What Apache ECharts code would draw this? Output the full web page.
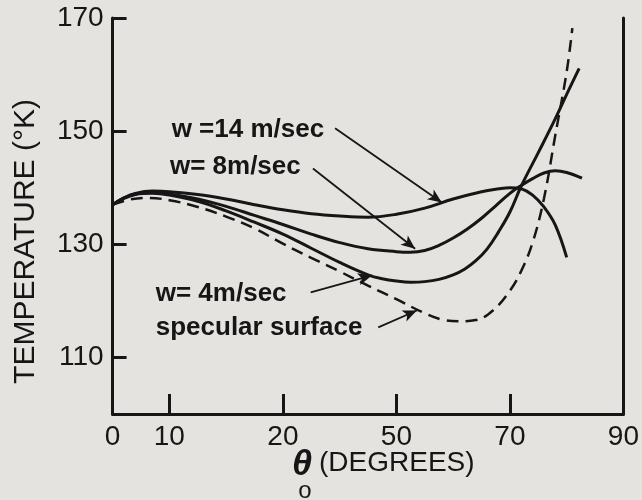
<!DOCTYPE html>
<html>
<head>
<meta charset="utf-8">
<script src="https://cdn.jsdelivr.net/npm/echarts@6/dist/echarts.min.js"></script>
<style>
html,body{margin:0;padding:0;background:#e4e3df;}
#c{width:642px;height:500px;}
</style>
</head>
<body>
<div id="c"></div>
<script>
// ---- data (x = theta_o in degrees, y = temperature K) ----
const w14 = [[0,137],[2,138.2],[4,139.0],[7,139.4],[10,139.3],[15,138.8],[20,138.0],[25,137.0],[30,136.1],[35,135.4],[40,135.0],[45,134.8],[50,135.3],[55,136.4],[60,138.0],[65,139.3],[68,139.8],[70,140.0],[72,139.8],[74,138.7],[76,136.6],[78,133.4],[80,127.7]];
const w8 = [[0,137],[2,138.2],[4,138.9],[7,139.2],[10,138.9],[15,138.0],[20,136.7],[25,135.1],[30,133.5],[35,131.8],[40,130.3],[45,129.2],[50,128.7],[52.5,128.6],[55,128.9],[57.5,129.8],[60,131.1],[62.5,132.7],[65,134.6],[67.5,136.8],[70,139.0],[72,140.4],[74,141.6],[76,142.6],[78,143.0],[80,142.7],[82.7,141.7]];
const w4 = [[0,137],[2,138.1],[4,138.8],[7,139.0],[10,138.7],[15,137.6],[20,135.9],[25,133.9],[30,131.8],[35,129.3],[40,126.8],[45,124.6],[47.5,123.9],[50,123.5],[52.5,123.3],[55,123.4],[57.5,123.8],[60,124.6],[62,125.6],[64,127.1],[66,129.2],[68,132.2],[70,135.7],[72,140.3],[75,146.2],[78,152.2],[80,156.5],[82.2,161.1]];
const specular = [[0,137],[3,137.9],[6,138.2],[10,137.8],[15,136.6],[20,134.9],[25,132.8],[30,130.1],[35,127.6],[40,125.2],[45,122.7],[50,120.3],[55,117.8],[58,116.7],[61,116.4],[64,116.6],[67,118.3],[70,121.8],[72,125.3],[74,130.3],[76,138.1],[78,149.3],[80,160.5],[81,168.2]];

const xTickValues = [10,30,50,70];
const xLabelValues = [0,10,30,50,70,90];
const xLabelTexts = ['0','10','20','50','70','90'];
const yTickValues = [110,130,150,170];

// annotations: [text, textAnchor[x,y], arrowFrom[x,y], arrowTo[x,y]]
const annotations = [
  ['w =14 m/sec', [10.4,150.2], [39.2,150.5], [58,137.4]],
  ['w= 8m/sec', [10.1,143.7], [35.3,143.4], [53.3,129.2]],
  ['w= 4m/sec', [7.6,121.2], [34.9,121.5], [45.7,124.5]],
  ['specular surface', [7.6,115.3], [46.8,115.3], [53.6,118.3]]
];

const INK = '#161616';
const FONT = '"Liberation Sans", Arial, sans-serif';

const chart = echarts.init(document.getElementById('c'));

function solid(name, data){
  return {name, type:'line', data, smooth:0.4, symbol:'none',
    lineStyle:{color:INK, width:3}, z:3};
}

const arrowLines = annotations.map(a => [{coord:a[2]},{coord:a[3]}]);

chart.setOption({
  backgroundColor:'#e4e3df',
  animation:false,
  grid:{left:112.6, right:17.5, top:18, bottom:86},
  xAxis:{
    type:'value', min:0, max:90,
    axisLine:{show:true, onZero:false, lineStyle:{color:INK, width:3}},
    axisTick:{show:true, inside:true, length:20, customValues:xTickValues, lineStyle:{color:INK, width:3}},
    axisLabel:{show:true, customValues:xLabelValues, margin:9, color:INK, fontFamily:FONT, fontSize:28,
      formatter:v => xLabelTexts[xLabelValues.indexOf(v)]},
    splitLine:{show:false}
  },
  yAxis:[{
    type:'value', min:100, max:170,
    axisLine:{show:true, onZero:false, lineStyle:{color:INK, width:3}},
    axisTick:{show:true, inside:true, length:14, customValues:yTickValues, lineStyle:{color:INK, width:3}},
    axisLabel:{show:true, customValues:yTickValues, margin:9, color:INK, fontFamily:FONT, fontSize:28},
    splitLine:{show:false}
  },{
    type:'value', min:100, max:170, position:'right',
    axisLine:{show:true, onZero:false, lineStyle:{color:INK, width:3}},
    axisTick:{show:false}, axisLabel:{show:false}, splitLine:{show:false}
  }],
  series:[
    solid('w=14', w14),
    solid('w=8', w8),
    solid('w=4', w4),
    {name:'specular', type:'line', data:specular, smooth:0.4, symbol:'none',
      lineStyle:{color:INK, width:2.5, type:[12,7]}, z:3,
      markLine:{silent:true, symbol:['none','arrow'], symbolSize:[9,14],
        label:{show:false}, lineStyle:{color:INK, width:1.8, type:'solid'},
        data:arrowLines}}
  ]
});

const texts = annotations.map(a => {
  const p = chart.convertToPixel({gridIndex:0}, a[1]);
  return {type:'text', x:p[0], y:p[1], z:10,
    style:{text:a[0], fill:INK, font:'bold 26px ' + FONT, textAlign:'left', textVerticalAlign:'middle'}};
});

chart.setOption({graphic:[
  ...texts,
  {type:'text', x:26, y:241.5, rotation:Math.PI/2, z:10,
    style:{text:'TEMPERATURE (°K)', fill:INK, font:'30px ' + FONT, textAlign:'center', textVerticalAlign:'middle'}},
  {type:'text', x:302, y:465, z:10,
    style:{text:'θ', fill:INK, font:'italic bold 36px ' + FONT, textAlign:'center', textVerticalAlign:'middle'}},
  {type:'text', x:305, y:491, z:10,
    style:{text:'o', fill:INK, font:'24px ' + FONT, textAlign:'center', textVerticalAlign:'middle'}},
  {type:'text', x:319, y:463, z:10,
    style:{text:'(DEGREES)', fill:INK, font:'28px ' + FONT, textAlign:'left', textVerticalAlign:'middle'}}
]});
</script>
</body>
</html>
